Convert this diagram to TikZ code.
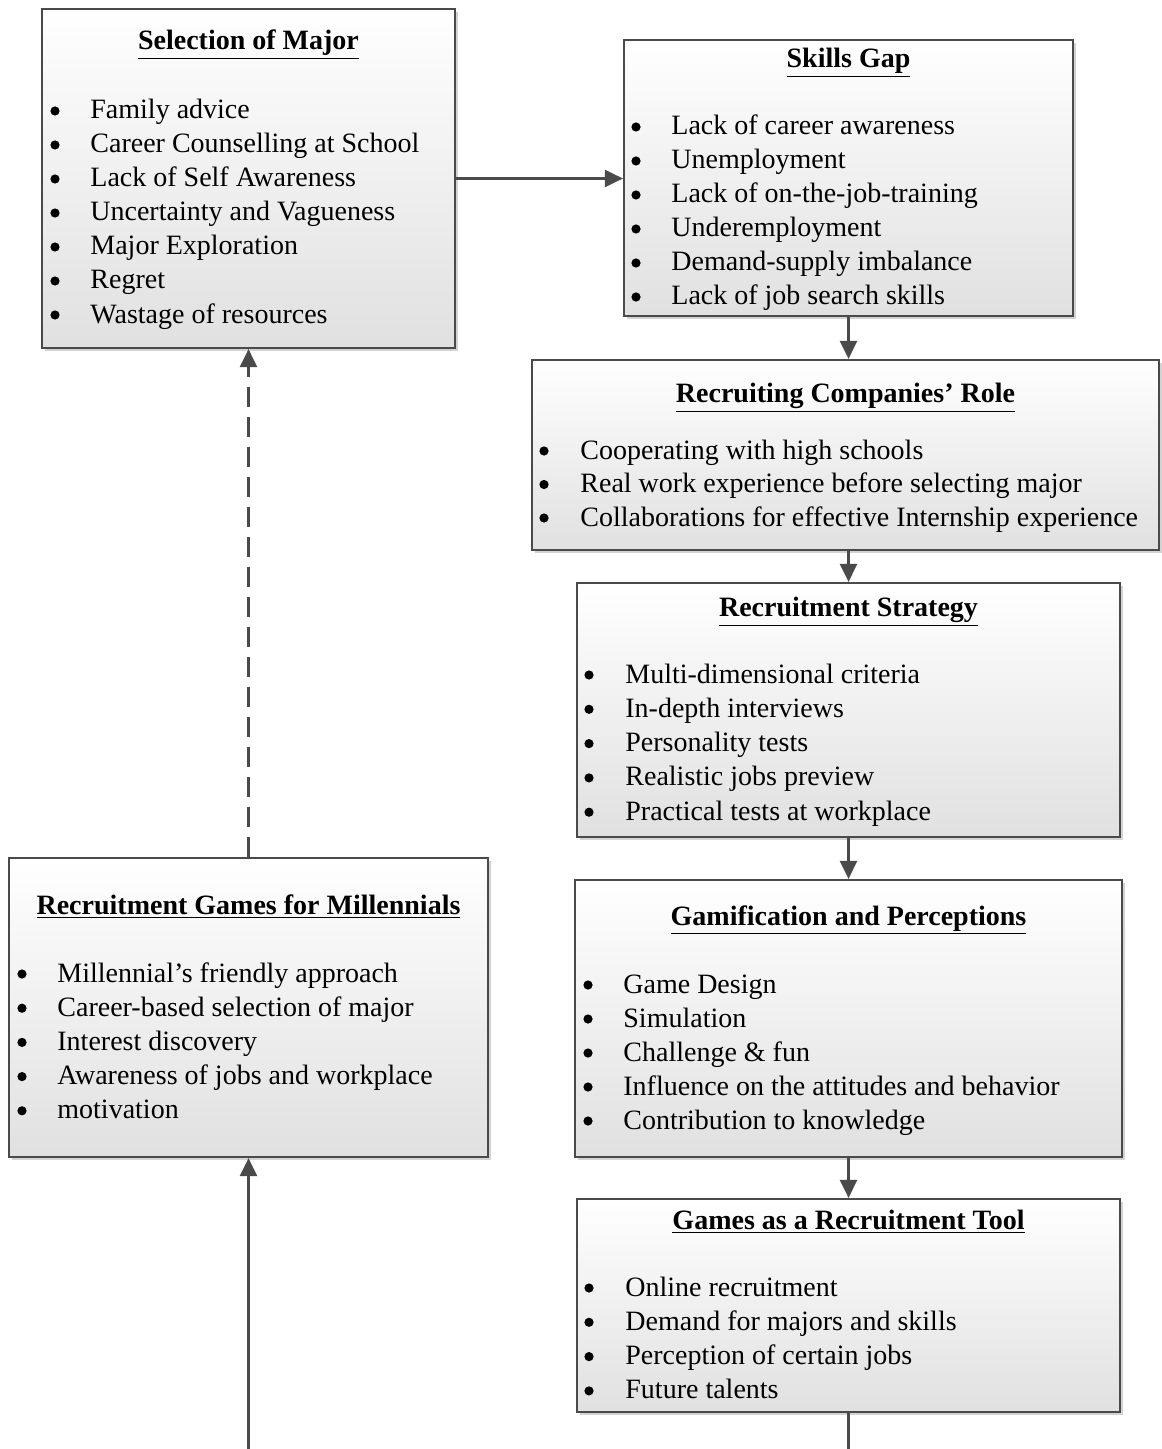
\documentclass[tikz,border=0pt]{standalone}
\usepackage{fontspec}
\setmainfont{Liberation Serif}
\usetikzlibrary{arrows.meta,shadows}

\definecolor{edge}{HTML}{4A4A4A}

\tikzset{
  panelbox/.style={draw=edge, line width=1.1pt, top color=white, bottom color=gray!24,
    drop shadow={shadow xshift=1.3pt, shadow yshift=-1.3pt, opacity=0.35, fill=gray},
    inner sep=0pt},
  ttl/.style={anchor=base, font=\fontsize{14}{17}\selectfont\bfseries, inner sep=0pt},
  itm/.style={anchor=base west, inner sep=0pt},
  dot/.style={circle, fill=black, inner sep=0pt, minimum size=4.6pt},
  flow/.style={draw=edge, line width=1.3pt, -{Triangle[length=9pt,width=8.5pt]}},
  backflow/.style={flow, dash pattern=on 10pt off 5pt},
}

% box with an underlined bold heading: name, x1, y1, x2, y2, heading, heading y
\newcommand\panel[7]{%
  \node[panelbox, minimum width={(#4-#2)*0.5pt}, minimum height={(#5-#3)*0.5pt}]
    (#1) at ({(#2+#4)/2},{(#3+#5)/2}) {};
  \node[ttl] (#1-title) at ({(#2+#4)/2},{#7+9}) {\underline{#6}};
}
% bulleted list: name, bullet x, text x, first y, line step, items
\newcommand\bullets[6]{%
  \foreach \txt [count=\k] in {#6} {
    \node[dot] (#1-dot\k) at ({#2+5},{#4+(\k-1)*#5+1}) {};
    \node[itm] (#1-item\k) at (#3,{#4+(\k-1)*#5+9}) {\txt};
  }
}

\begin{document}
\begin{tikzpicture}[x=0.5pt, y=-0.5pt, font=\fontsize{14}{17}\selectfont]
\useasboundingbox (0,0) rectangle (1161,1449);

\panel{sel}{42}{9}{455}{348}{Selection of Major}{41}
\bullets{sel}{50}{90}{110}{34}{Family advice, Career Counselling at School, Lack of Self Awareness,
  Uncertainty and Vagueness, Major Exploration, Regret, Wastage of resources}

\panel{gap}{624}{40}{1073}{316}{Skills Gap}{59}
\bullets{gap}{631}{671}{126}{34}{Lack of career awareness, Unemployment, Lack of on-the-job-training,
  Underemployment, Demand-supply imbalance, Lack of job search skills}

\panel{role}{532}{360}{1159}{550}{Recruiting Companies’ Role}{393}
\bullets{role}{539}{580}{450}{33.5}{Cooperating with high schools,
  Real work experience before selecting major, Collaborations for effective Internship experience}

\panel{strat}{577}{583}{1120}{837}{Recruitment Strategy}{607}
\bullets{strat}{584}{625}{674}{34.3}{Multi-dimensional criteria, In-depth interviews, Personality tests,
  Realistic jobs preview, Practical tests at workplace}

\panel{gam}{575}{880}{1122}{1157}{Gamification and Perceptions}{916}
\bullets{gam}{583}{623}{984}{34}{Game Design, Simulation, Challenge \& fun,
  Influence on the attitudes and behavior, Contribution to knowledge}

\panel{tool}{577}{1199}{1120}{1412}{Games as a Recruitment Tool}{1220}
\bullets{tool}{584}{625}{1287}{34.3}{Online recruitment, Demand for majors and skills,
  Perception of certain jobs, Future talents}

\panel{rg}{9}{858}{488}{1157}{Recruitment Games for Millennials}{905}
\bullets{rg}{17}{57}{973}{34.2}{Millennial’s friendly approach, Career-based selection of major,
  Interest discovery, Awareness of jobs and workplace, motivation}

% loose ends running off the lower edge
\coordinate (outR) at (848.5,1449);
\coordinate (inL) at (248.5,1449);

\draw[flow] (sel.east) -- (gap.west |- sel.east);
\draw[flow] (gap.south) -- (gap.south |- role.north);
\draw[flow] (strat.north |- role.south) -- (strat.north);
\draw[flow] (strat.south) -- (gam.north);
\draw[flow] (gam.south) -- (tool.north);
\draw[draw=edge, line width=1.3pt] (tool.south) -- (outR);
\draw[flow] (inL) -- (rg.south);
\draw[backflow] (rg.north) -- (sel.south);
\end{tikzpicture}
\end{document}
